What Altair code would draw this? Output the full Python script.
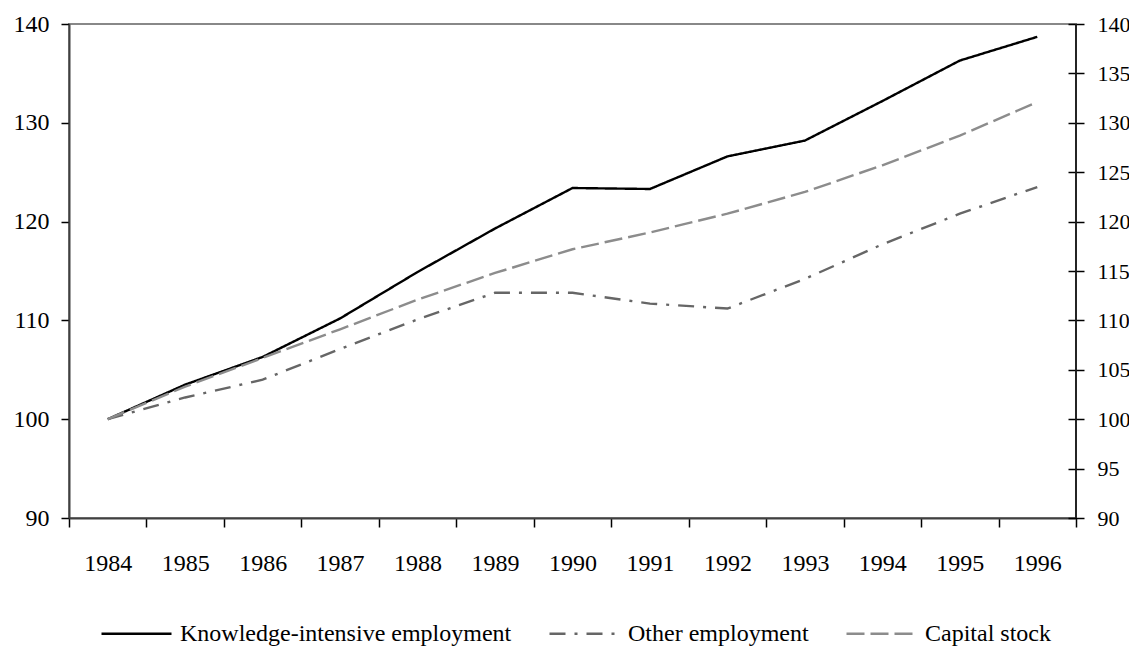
import altair as alt
import pandas as pd

years = [str(y) for y in range(1984, 1997)]
knowledge = [100, 103.5, 106.3, 110.2, 114.9, 119.3, 123.4, 123.3, 126.6, 128.2, 132.2, 136.3, 138.7]
other = [100, 102.2, 104.0, 107.1, 110.1, 112.8, 112.8, 111.7, 111.2, 114.2, 117.7, 120.8, 123.5]
capital = [100, 103.3, 106.2, 109.1, 112.1, 114.8, 117.2, 118.9, 120.8, 123.0, 125.7, 128.7, 132.1]
series_names = ["Knowledge-intensive employment", "Other employment", "Capital stock"]
left_ticks = [90, 100, 110, 120, 130, 140]
right_ticks = [90, 95, 100, 105, 110, 115, 120, 125, 130, 135, 140]

rows = []
for name, vals in zip(series_names, [knowledge, other, capital]):
    for yr, v in zip(years, vals):
        rows.append({"year": yr, "value": v, "series": name})
df = pd.DataFrame(rows)

FONT = "Liberation Serif"
W, H = 1007, 494

x_enc = alt.X(
    "year:O",
    scale=alt.Scale(type="band", paddingInner=0, paddingOuter=0),
    axis=alt.Axis(
        title=None, labelAngle=0, tickBand="extent", tickSize=9, labelPadding=24,
        labelFontSize=24, labelFont=FONT, labelColor="black",
        domainColor="#404040", domainWidth=2, tickColor="black", tickWidth=1.5, grid=False,
    ),
)

yscale = alt.Scale(domain=[90, 140], nice=False, zero=False)

legend = alt.Legend(
    orient="none", legendX=31, legendY=573, direction="horizontal", title=None,
    symbolType="stroke", symbolSize=4900, symbolStrokeWidth=2.4, labelFont=FONT, labelFontSize=24,
    labelColor="black", labelOffset=7, columnPadding=32, labelLimit=600,
)

lines = alt.Chart(df).mark_line(strokeWidth=2.4).encode(
    x=x_enc,
    y=alt.Y(
        "value:Q", scale=yscale,
        axis=alt.Axis(
            title=None, values=left_ticks, tickSize=8, labelPadding=12,
            labelFontSize=24, labelFont=FONT, labelColor="black",
            domainColor="#404040", domainWidth=2, tickColor="black", tickWidth=1.5, grid=False,
        ),
    ),
    color=alt.Color("series:N", title=None,
                    scale=alt.Scale(domain=series_names, range=["#000000", "#666666", "#8c8c8c"]),
                    legend=legend),
    strokeDash=alt.StrokeDash("series:N", title=None,
                              scale=alt.Scale(domain=series_names, range=[[1, 0], [16, 9, 3, 9], [18, 6]]),
                              legend=legend),
)

right_axis = alt.Chart(df).mark_line(opacity=0).encode(
    x=x_enc,
    y=alt.Y(
        "value:Q", scale=yscale,
        axis=alt.Axis(
            title=None, orient="right", values=right_ticks, tickSize=16, offset=-8,
            domain=False, labelPadding=13, labelFontSize=22, labelFont=FONT,
            labelColor="black", tickColor="black", tickWidth=1.5, grid=False,
        ),
    ),
)

right_line = alt.Chart(pd.DataFrame({"a": [0]})).mark_rule(color="#1a1a1a", strokeWidth=1.8).encode(
    x=alt.value(W), y=alt.value(0), y2=alt.value(H)
)

chart = (
    alt.layer(lines, right_axis, right_line)
    .resolve_scale(y="independent")
    .properties(
        width=W, height=H,
        autosize=alt.AutoSizeParams(type="none"),
        padding={"left": 61, "top": 16, "right": 53, "bottom": 128},
    )
    .configure_view(stroke="#888888", strokeWidth=2)
)

chart.save("out.html", embed_options={"renderer": "svg", "actions": False})
